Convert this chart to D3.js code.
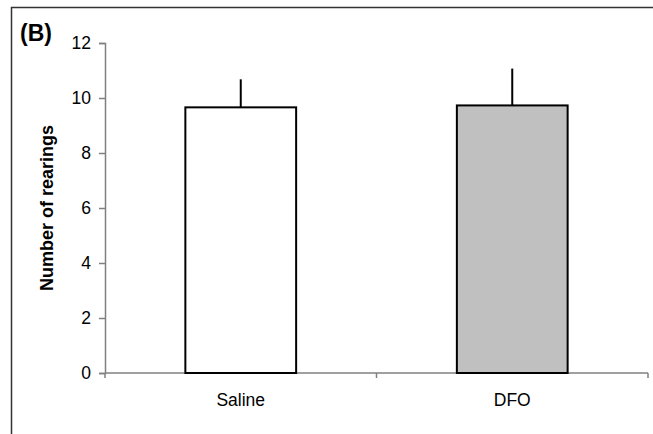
<!DOCTYPE html>
<html>
<head>
<meta charset="utf-8">
<script src="https://cdn.jsdelivr.net/npm/d3@7"></script>
<style>
  html, body { margin: 0; padding: 0; background: #fff; }
  svg { display: block; }
  text { font-family: "Liberation Sans", Arial, sans-serif; fill: #000; }
</style>
</head>
<body>
<svg id="chart" width="653" height="434"></svg>
<script>
const categories = ["Saline", "DFO"];
const means = [9.66, 9.73];
const errors = [1.02, 1.34];
const fills = ["#ffffff", "#c0c0c0"];
const yTicks = [0, 2, 4, 6, 8, 10, 12];
const yLabel = "Number of rearings";
const panelLabel = "(B)";

const svg = d3.select("#chart");

// outer frame (only left/top visible, extends past window)
svg.append("rect")
  .attr("x", 11.5).attr("y", 7.5)
  .attr("width", 700).attr("height", 500)
  .attr("fill", "none").attr("stroke", "#333").attr("stroke-width", 1.5);

const x = d3.scaleBand().domain(categories).range([105, 648]).padding(0);
const y = d3.scaleLinear().domain([0, 12]).range([373, 43]);

// Y axis
const yAxis = svg.append("g")
  .attr("transform", "translate(105,0)")
  .call(d3.axisLeft(y).tickValues(yTicks).tickSize(6).tickPadding(8).tickFormat(d3.format("d")));
yAxis.select(".domain").attr("stroke", "#808080").attr("stroke-width", 1.5);
yAxis.selectAll(".tick line").attr("stroke", "#808080").attr("stroke-width", 1.5);
yAxis.selectAll(".tick text").style("font-size", "17.5px").style("font-family", "Liberation Sans, Arial, sans-serif");

// X axis line
svg.append("line")
  .attr("x1", x.range()[0]).attr("x2", x.range()[1])
  .attr("y1", y(0)).attr("y2", y(0))
  .attr("stroke", "#808080").attr("stroke-width", 1.5);

// X boundary ticks
const bounds = [x(categories[0])].concat(categories.map(c => x(c) + x.bandwidth()));
svg.selectAll(".xtick").data(bounds).enter().append("line")
  .attr("x1", d => d).attr("x2", d => d)
  .attr("y1", y(0)).attr("y2", y(0) + 5)
  .attr("stroke", "#808080").attr("stroke-width", 1.5);

// X labels
svg.selectAll(".xlabel").data(categories).enter().append("text")
  .attr("x", d => x(d) + x.bandwidth() / 2)
  .attr("y", 406)
  .attr("text-anchor", "middle")
  .style("font-size", "17.5px")
  .text(d => d);

// Bars
const bw = x.bandwidth() * 0.408;
svg.selectAll(".bar").data(categories).enter().append("rect")
  .attr("x", d => x(d) + x.bandwidth() / 2 - bw / 2)
  .attr("y", (d, i) => y(means[i]))
  .attr("width", bw)
  .attr("height", (d, i) => y(0) - y(means[i]))
  .attr("fill", (d, i) => fills[i])
  .attr("stroke", "#000").attr("stroke-width", 2);

// Error bars (upper only)
svg.selectAll(".err").data(categories).enter().append("line")
  .attr("x1", d => x(d) + x.bandwidth() / 2)
  .attr("x2", d => x(d) + x.bandwidth() / 2)
  .attr("y1", (d, i) => y(means[i]))
  .attr("y2", (d, i) => y(means[i] + errors[i]))
  .attr("stroke", "#000").attr("stroke-width", 2);

// Y label
svg.append("text")
  .attr("transform", "translate(53," + ((y(0) + y(12)) / 2) + ") rotate(-90)")
  .attr("text-anchor", "middle")
  .style("font-size", "18px").style("font-weight", "bold")
  .text(yLabel);

// Panel label
svg.append("text")
  .attr("x", 20).attr("y", 41)
  .style("font-size", "23px").style("font-weight", "bold")
  .text(panelLabel);
</script>
</body>
</html>
